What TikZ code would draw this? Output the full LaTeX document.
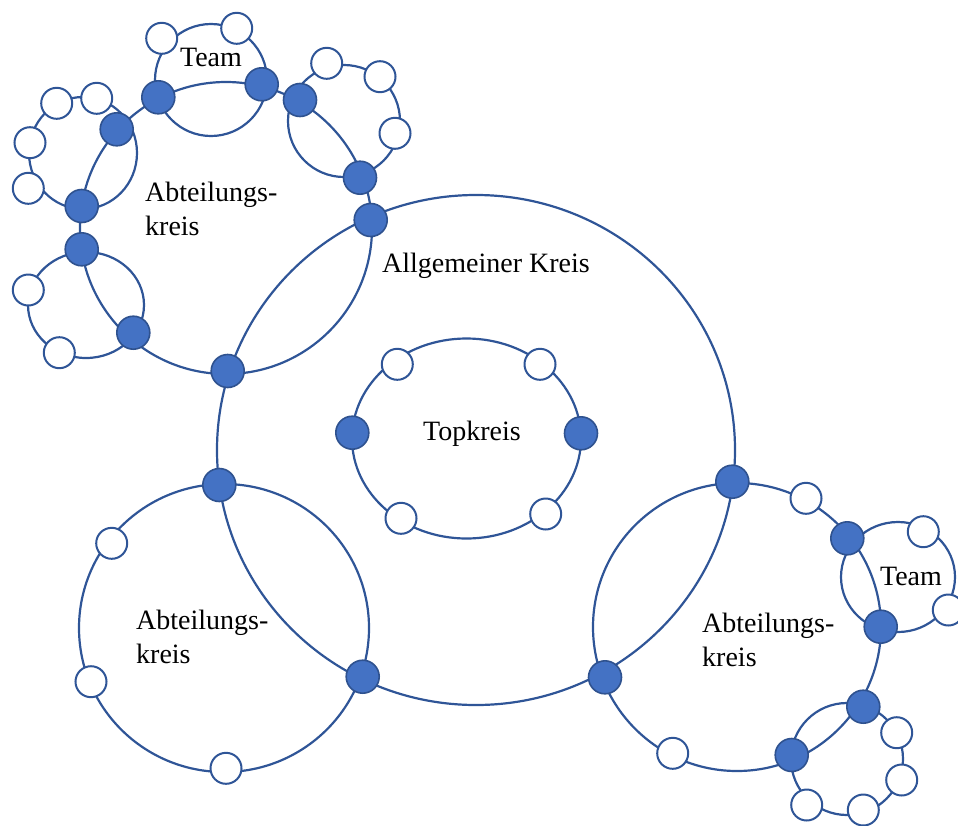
\documentclass[tikz,border=0pt]{standalone}
\usepackage{fontspec}
\setmainfont{Liberation Serif}
\definecolor{ringblue}{HTML}{2F5597}
\definecolor{hubfill}{HTML}{4472C4}
\definecolor{hubedge}{HTML}{2F528F}
\tikzset{
  ring/.style={draw=ringblue, line width=2.2pt},
  hub/.style={circle, fill=hubfill, draw=hubedge, line width=1.6pt, minimum size=33pt, inner sep=0pt},
  seat/.style={circle, fill=white, draw=ringblue, line width=2pt, minimum size=31pt, inner sep=0pt},
  lbl/.style={font=\fontsize{28pt}{34pt}\selectfont, inner sep=0pt, text=black},
}
\begin{document}
\begin{tikzpicture}[x=1pt, y=-1pt]
\useasboundingbox (0,0) rectangle (958,825);
\clip (0,0) rectangle (958,825);

% circles
\draw[ring] (476,450) ellipse [x radius=259pt, y radius=255pt];   % Allgemeiner Kreis
\draw[ring] (466.5,438.5) ellipse [x radius=114.5pt, y radius=100pt]; % Topkreis
\draw[ring] (226,228) circle [radius=146pt];                       % Abteilungskreis oben links
\draw[ring] (224,628) ellipse [x radius=145pt, y radius=144pt];     % Abteilungskreis unten links
\draw[ring] (737,627) circle [radius=144pt];                       % Abteilungskreis unten rechts
\draw[ring] (211,80) circle [radius=56pt];                         % Team oben
\draw[ring] (344,121) circle [radius=56pt];                        % Team oben rechts
\draw[ring] (83,153) ellipse [x radius=54pt, y radius=56pt];        % Team links oben
\draw[ring] (86,305) ellipse [x radius=58pt, y radius=53pt];        % Team links unten
\draw[ring] (898,577) ellipse [x radius=57pt, y radius=55pt];       % Team rechts
\draw[ring] (847,759) circle [radius=56pt];                        % Team unten rechts

% members (white)
\foreach \p [count=\i] in {(161.7,38.3),(236.7,28.3),
    (56.7,103.3),(96.7,98.3),(30,142.7),(28.3,188.3),
    (28.3,290),(59.3,352.7),
    (326.7,63.3),(380,76.7),(395,133.3),
    (111.7,543.3),(91,681.7),(226,768.3),
    (397.3,364.3),(540,364.3),(401,518.3),(545.7,514),
    (806,498.3),(672.7,753.3),
    (923.3,531.7),(948.3,610),
    (896.7,732.7),(901.7,780),(863.3,810),(806.7,805)}
  \node[seat] (m\i) at \p {};

% links (filled)
\foreach \p [count=\i] in {(158.3,97.3),(116.7,129.3),(81.7,206),(81.7,249.3),
    (133.3,332.7),(227.7,371),(261.7,84.3),(300,100),(360,177.7),(370.7,220),
    (219.3,485),(362.7,676.7),
    (352.3,432.7),(581,433.3),
    (732.3,481.7),(605,677.3),(847.3,538.3),(880.7,626.7),(863.3,706.7),(791.7,755)}
  \node[hub] (h\i) at \p {};

% labels
\node[lbl, anchor=base] (tteam) at (211,66.7) {Team};
\node[lbl, anchor=base] (rteam) at (911,585) {Team};
\node[lbl, align=left, anchor=north west] (abtTL) at (145,182) {Abteilungs-\\kreis};
\node[lbl, align=left, anchor=north west] (abtBL) at (136,610) {Abteilungs-\\kreis};
\node[lbl, align=left, anchor=north west] (abtBR) at (702,613) {Abteilungs-\\kreis};
\node[lbl, anchor=base west] (allg) at (382,272) {Allgemeiner Kreis};
\node[lbl, anchor=base] (topk) at (472,440) {Topkreis};
\end{tikzpicture}
\end{document}
